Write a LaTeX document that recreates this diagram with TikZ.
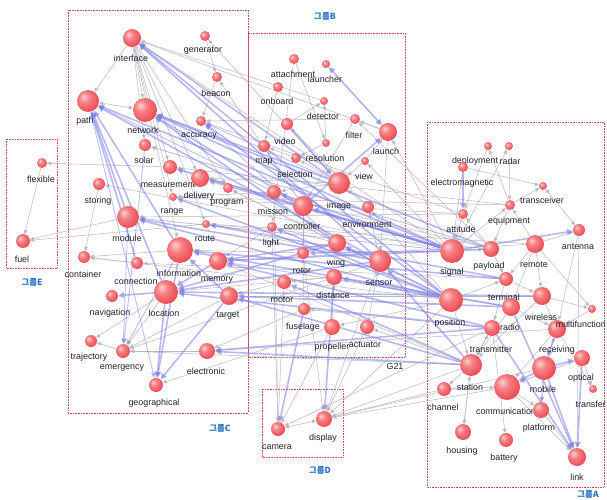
\documentclass[tikz,border=0pt]{standalone}
\usepackage{fontspec}
\setmainfont{Liberation Sans}
\newfontfamily\krfont{Noto Sans CJK KR}
\usetikzlibrary{arrows.meta}
\definecolor{ballred}{RGB}{236,72,82}
\definecolor{ballmid}{RGB}{246,128,132}
\definecolor{ballhi}{RGB}{255,210,210}
\definecolor{edgegray}{RGB}{185,185,192}
\definecolor{edgeblue}{RGB}{128,128,232}
\definecolor{grpred}{RGB}{215,70,95}
\definecolor{grpblue}{RGB}{40,115,195}
\definecolor{lbltext}{RGB}{35,35,45}
\pgfdeclareradialshading{nodeball}{\pgfpoint{-10bp}{10bp}}{color(0bp)=(ballhi); color(12bp)=(ballmid); color(32bp)=(ballred); color(70bp)=(ballred)}
\pgfdeclarelayer{bg}
\pgfsetlayers{bg,main}
\begin{document}
\begin{tikzpicture}[x=1pt,y=-1pt,
  ball/.style={circle, inner sep=0pt, draw=none, shade, shading=nodeball},
  lbl/.style={font=\fontsize{8.9}{10}\selectfont, text=lbltext, inner sep=0pt},
  grpbox/.style={draw=grpred, densely dotted, line width=0.6pt},
  grplbl/.style={font=\krfont\bfseries\fontsize{8.5}{10}\selectfont, text=grpblue, inner sep=0pt},
  gedge/.style={draw=edgegray, line width=0.5pt, -{Triangle[width=3.5pt,length=4pt]}},
  gboth/.style={draw=edgegray, line width=0.5pt, {Triangle[width=3.5pt,length=4pt]}-{Triangle[width=3.5pt,length=4pt]}},
  bedge/.style={draw=edgeblue, draw opacity=0.55, fill opacity=0.55, line width=1.6pt, -{Triangle[width=6pt,length=6pt]}},
  bthin/.style={draw=edgeblue, draw opacity=0.5, fill opacity=0.5, line width=0.9pt, -{Triangle[width=4.5pt,length=5pt]}},
  bboth/.style={draw=edgeblue, draw opacity=0.6, fill opacity=0.6, line width=1.6pt, {Triangle[width=6pt,length=6pt]}-{Triangle[width=6pt,length=6pt]}}
]
\useasboundingbox (0,0) rectangle (607,500);

% ---------- nodes ----------
\foreach \n/\x/\y/\r/\lx/\ly/\lab in {
  interface/132/38/9/131/58/interface,
  generator/205/36/5/203/51/generator,
  beacon/217/77/5/216/93/beacon,
  path/88/101/11/85/121/path,
  network/145/110/12/143/130/network,
  accuracy/201/121/5/199/136/accuracy,
  solar/145/145/6/144/160/solar,
  storing/99/184/6/98/201/storing,
  measurement/170/167/7/168/185/measurement,
  delivery/200/178/9/199/196/delivery,
  range/173/197/4/172/212/range,
  program/228/188/5/227/203/program,
  module/128/217/11/127/238/module,
  route/206/224/4/205/239/route,
  information/180/250/13/179/273/information,
  memory/218/261/9/217/280/memory,
  connection/137/263/6/136/281/connection,
  container/84/257/6/83/274/container,
  navigation/112/296/6/110/313/navigation,
  location/166/292/12/164/313/location,
  target/229/296/9/228/316/target,
  trajectory/91/341/6/89/357/trajectory,
  emergency/123/351/7/122/368/emergency,
  electronic/207/351/8/206/371/electronic,
  geographical/156/385/7/154/403/geographical,
  flexible/42/163/5/41/179/flexible,
  fuel/23/241/7/22/259/fuel,
  attachment/294/59/5/293/74/attachment,
  launcher/326/64/4/325/79/launcher,
  onboard/278/87/5/277/101/onboard,
  detector/324/101/4/323/116/detector,
  video/287/124/6/285/141/video,
  filter/355/119/5/354/135/filter,
  launch/388/132/9/386/151/launch,
  map/264/146/6/264/162/map,
  resolution/326/143/4/325/158/resolution,
  selection/296/158/5/295/174/selection,
  view/365/161/4/364/176/view,
  image/339/183/11/339/206/image,
  mission/274/192/7/273/211/mission,
  controller/303/206/10/302/226/controller,
  environment/368/207/6/367/224/environment,
  light/272/227/5/271/243/light,
  wing/337/243/9/336/263/wing,
  sensor/380/261/11/379/283/sensor,
  rotor/303/253/6/302/271/rotor,
  distance/334/277/8/333/295/distance,
  motor/284/282/7/282/300/motor,
  fuselage/304/309/6/303/327/fuselage,
  propeller/332/327/8/332/347/propeller,
  actuator/367/327/7/365/345/actuator,
  camera/278/429/7/277/447/camera,
  display/324/419/8/323/438/display,
  deployment/488/146/4/475/161/deployment,
  radar/509/146/4/510/161/radar,
  electromagnetic/463/167/5/462/183/electromagnetic,
  transceiver/543/186/4/542/200/transceiver,
  equipment/510/205/5/509/221/equipment,
  attitude/463/214/5/461/229/attitude,
  antenna/579/230/6/578/247/antenna,
  signal/452/251/12/452/272/signal,
  payload/491/249/8/489/266/payload,
  remote/535/244/9/534/265/remote,
  terminal/506/279/7/504/297/terminal,
  radio/511/307/9/510/327/radio,
  position/451/300/12/450/323/position,
  wireless/542/296/9/541/317/wireless,
  transmitter/492/328/8/491/349/transmitter,
  receiving/557/329/9/557/350/receiving,
  optical/582/358/8/581/378/optical,
  station/471/365/11/470/387/station,
  mobile/544/368/12/543/389/mobile,
  channel/444/389/7/443/407/channel,
  communication/507/387/13/506/411/communication,
  platform/541/410/8/539/428/platform,
  housing/463/432/8/462/451/housing,
  battery/506/440/7/504/458/battery,
  link/577/457/9/577/477/link}{
  \node[ball, minimum size={2*\r pt}] (\n) at (\x,\y) {};
  \node[lbl] (\n-l) at (\lx,\ly) {\lab};
}
\node[ball, minimum size=8pt] (multifunction) at (592,309) {};
\node[lbl, anchor=east] (multifunction-l) at (606,324) {multifunction};
\node[ball, minimum size=8pt] (transfer) at (593,389) {};
\node[lbl, anchor=east] (transfer-l) at (606,404) {transfer};

% ---------- group labels ----------
\node[grplbl] (gB) at (325,16) {그룹B};
\node[grplbl] (gC) at (220,428) {그룹C};
\node[grplbl] (gA) at (588,494) {그룹A};
\node[grplbl] (gE) at (32,282) {그룹E};
\node[grplbl] (gD) at (320,470) {그룹D};
\node[lbl] (g21) at (395,366) {G21};

\begin{pgfonlayer}{bg}
\fill[white] (0,0) rectangle (607,500);
% group boxes
\draw[grpbox] (68,10) rectangle (248,413);
\draw[grpbox] (248,33) rectangle (405,357);
\draw[grpbox] (427,122) rectangle (604,487);
\draw[grpbox] (6,139) rectangle (57,268);
\draw[grpbox] (262,389) rectangle (343,457);

% gray edges
\foreach \a/\b in {
  interface/path, interface/network, generator/beacon, beacon/accuracy,
  interface/measurement, interface/delivery, interface/range, interface/route,
  interface/information, interface/program, interface/solar,
  flexible/fuel, measurement/flexible, module/fuel, route/fuel,
  storing/container, connection/container, information/container,
  location/trajectory, emergency/trajectory, location/emergency, sensor/emergency,
  propeller/geographical, electronic/emergency, target/emergency,
  attachment/light, onboard/map, video/detector, resolution/detector,
  filter/controller, view/launch, launch/sensor, environment/video,
  resolution/selection, selection/map, launch/filter, attachment/resolution,
  deployment/attitude, signal/radar, electromagnetic/transceiver,
  remote/equipment, signal/equipment, payload/attitude, remote/multifunction,
  antenna/receiving, remote/wireless, remote/radio, equipment/deployment,
  station/channel, station/housing, transmitter/battery, communication/platform,
  mission/camera, light/camera, motor/camera, rotor/display, actuator/display,
  sensor/display, station/display, channel/display, communication/display,
  mobile/display, position/display, transmitter/camera, propeller/camera,
  signal/interface, position/program, remote/route, payload/delivery,
  station/memory, equipment/measurement, attitude/accuracy, wireless/target,
  receiving/electronic, attitude/module, equipment/range, signal/storing,
  image/mission, controller/rotor, wing/light, sensor/wing, environment/image,
  distance/motor, fuselage/rotor, propeller/distance, actuator/sensor,
  image/selection, view/image, controller/map, sensor/environment,
  terminal/wireless, payload/terminal, radio/receiving, wireless/receiving,
  terminal/transmitter, remote/terminal, attitude/signal, equipment/payload,
  signal/payload, position/terminal, station/transmitter, remote/antenna,
  wireless/multifunction, mobile/platform, channel/communication,
  receiving/transfer, optical/transfer, platform/link, communication/link,
  housing/station, position/station, transmitter/station, radio/station,
  signal/launch, position/environment, signal/view, payload/filter,
  station/actuator, position/propeller, transmitter/fuselage,
  sensor/route, wing/program, image/delivery, controller/measurement,
  mission/range, light/memory, motor/target, rotor/information,
  distance/location, fuselage/electronic, image/generator, controller/beacon,
  launch/interface, detector/interface, filter/accuracy, equipment/transceiver,
  antenna/link, multifunction/receiving, electromagnetic/signal, radar/equipment,
  station/emergency, position/container, terminal/connection, receiving/communication,
  wireless/station, payload/route, attitude/range, remote/memory}{
  \draw[gedge] (\a) -- (\b);
}
\foreach \a/\b in {path/network, transceiver/antenna, camera/display, mobile/receiving}{
  \draw[gboth] (\a) -- (\b);
}

% blue edges
\foreach \a/\b in {
  video/image, signal/antenna, module/path, information/path, connection/path,
  location/path, sensor/path, signal/path, controller/network, wing/network,
  signal/network, image/interface, sensor/interface, position/interface,
  location/geographical, information/geographical, target/geographical,
  transmitter/electronic, station/electronic, location/navigation,
  memory/location, wing/location, target/information, sensor/module,
  controller/launch, distance/display, fuselage/camera, mobile/optical,
  optical/link, mobile/link, radio/link, transmitter/link, mobile/communication,
  receiving/mobile, signal/measurement, position/module, radio/information,
  payload/memory, transmitter/location, station/target, signal/controller,
  position/wing, terminal/route, position/light, signal/delivery,
  position/accuracy, electromagnetic/attitude, signal/mission, station/motor,
  radio/target, transmitter/memory, wireless/location, terminal/information,
  position/range, payload/network, sensor/location, wing/memory,
  image/network, signal/rotor, position/distance, station/sensor}{
  \draw[bedge] (\a) -- (\b);
}
\foreach \a/\b in {
  solar/emergency, path/geographical, wing/accuracy, image/accuracy,
  payload/solar, module/emergency, information/emergency, controller/path,
  signal/module, radio/memory, optical/communication, mobile/platform}{
  \draw[bthin] (\a) -- (\b);
}
\draw[bboth] (launcher) -- (launch);
\end{pgfonlayer}
\end{tikzpicture}
\end{document}
